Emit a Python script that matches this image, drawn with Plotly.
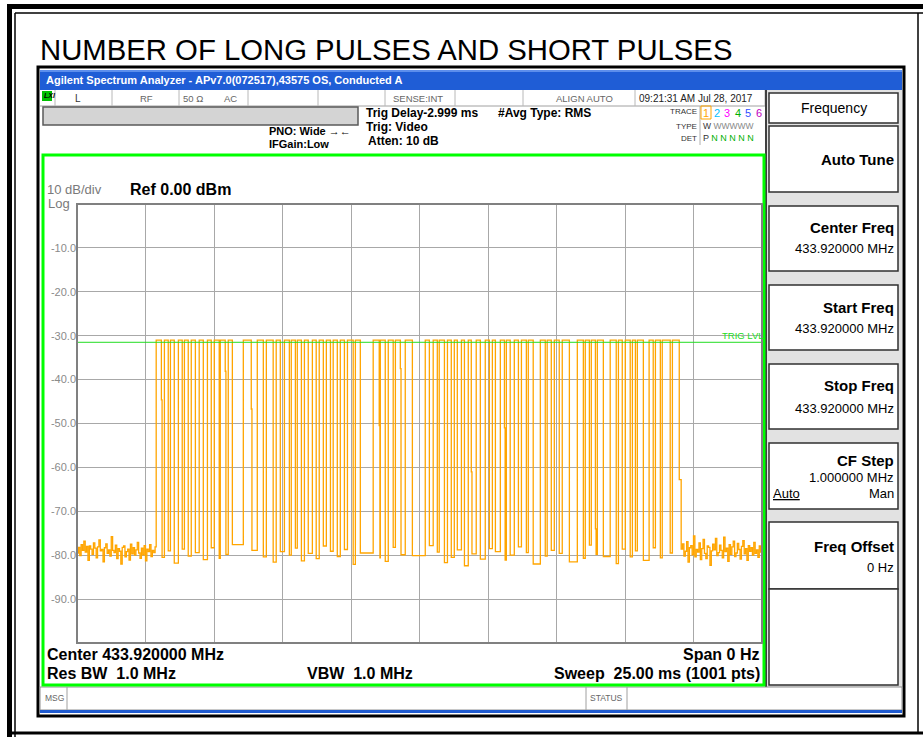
import plotly.graph_objects as go

W, H = 923, 737

# ---------------- data ----------------
sweep_ms = 25.0
sample_ms = 0.025
pulse_level_dbm = -31.0
trig_level_dbm = -31.5

pulse_start_ms = [2.89, 3.19, 3.41, 3.70, 3.92, 4.17, 4.46, 4.76, 5.01, 5.23,
                  5.52, 6.07, 6.58, 6.91, 7.27, 7.57, 7.82, 8.04, 8.30, 8.59,
                  8.84, 9.10, 9.35, 9.61, 9.87, 10.16, 10.81, 11.07, 11.36, 11.62,
                  11.98, 12.71, 13.00, 13.22, 13.52, 13.77, 14.03, 14.28, 14.57, 14.90,
                  15.16, 15.45, 15.67, 15.96, 16.22, 16.47, 16.91, 17.16, 17.42, 17.71,
                  18.26, 18.55, 18.77, 18.99, 19.46, 19.76, 20.01, 20.27, 20.45, 20.88,
                  21.11, 21.36, 21.73]
pulse_end_ms = [3.08, 3.33, 3.55, 3.84, 4.06, 4.32, 4.61, 4.90, 5.19, 5.41,
                5.67, 6.36, 6.80, 7.16, 7.42, 7.75, 7.97, 8.19, 8.44, 8.73,
                8.99, 9.25, 9.50, 9.76, 10.08, 10.34, 11.03, 11.25, 11.54, 11.80,
                12.24, 12.86, 13.15, 13.41, 13.66, 13.88, 14.14, 14.39, 14.72, 15.05,
                15.27, 15.60, 15.81, 16.11, 16.40, 16.65, 17.09, 17.31, 17.60, 17.97,
                18.48, 18.70, 18.92, 19.21, 19.68, 19.90, 20.19, 20.38, 20.67, 21.03,
                21.29, 21.65, 21.98]
gap_floor_dbm = [-80.5, -79.0, -81.8, -78.6, -80.2, -79.4, -81.0, -78.3, -80.7, -79.8,
                 -77.6, -78.9, -80.4, -81.6, -79.2, -80.0, -78.4, -81.3, -79.6, -80.8,
                 -77.9, -79.1, -80.3, -78.7, -82.1, -79.5, -80.6, -81.4, -78.2, -79.9,
                 -80.1, -77.8, -79.3, -81.7, -80.5, -78.8, -82.4, -79.7, -80.9, -78.5,
                 -79.2, -81.1, -80.0, -78.1, -79.4, -82.0, -80.2, -78.9, -79.6, -81.5,
                 -80.7, -77.7, -79.8, -80.3, -81.9, -78.6, -80.4, -79.0, -81.2, -78.3,
                 -80.6, -79.5]
# partial samples caught on some falling edges
fall_step_pulse = [0, 9, 11, 26, 29, 37, 41, 52, 62]
fall_step_dbm = [-44.6, -38.1, -46.7, -50.5, -37.5, -61.0, -51.0, -74.0, -62.8]

noise_step_ms = 0.05
pre_noise_dbm = [-79.5, -78.2, -80.1, -77.6, -78.9, -76.8, -79.3, -78.0, -81.2, -77.9,
                 -78.6, -79.8, -77.2, -78.4, -80.6, -78.1, -76.5, -79.0, -78.7, -81.5,
                 -78.3, -77.4, -79.6, -78.8, -80.2, -75.8, -78.9, -79.4, -77.7, -80.8,
                 -78.5, -79.1, -82.0, -78.2, -77.9, -80.4, -79.2, -78.6, -81.1, -77.5,
                 -79.7, -78.3, -80.0, -78.8, -77.1, -79.5, -80.7, -78.4, -79.9, -77.8,
                 -81.3, -78.6, -79.2, -77.6, -80.3, -78.9, -79.4, -78.1]
post_noise_start_ms = 22.05
post_noise_dbm = [-78.6, -77.4, -80.2, -79.1, -76.9, -81.6, -78.3, -77.8, -79.9, -75.6,
                  -80.4, -78.7, -79.3, -77.2, -81.0, -78.5, -76.4, -79.6, -80.8, -77.9,
                  -78.2, -82.3, -79.0, -77.5, -78.8, -76.2, -80.1, -79.4, -77.7, -78.9,
                  -80.6, -75.9, -79.2, -78.4, -81.4, -77.6, -79.8, -78.1, -76.8, -80.3,
                  -79.5, -77.3, -78.7, -80.9, -78.0, -76.7, -79.7, -78.5, -81.2, -77.8,
                  -79.1, -78.3, -80.0, -77.1, -79.6, -78.8, -80.5, -77.9, -79.3, -78.6]

y_tick_vals = [-10, -20, -30, -40, -50, -60, -70, -80, -90]
y_tick_text = ["-10.0", "-20.0", "-30.0", "-40.0", "-50.0", "-60.0", "-70.0", "-80.0", "-90.0"]

# ---------------- build the trace ----------------
xs, ys = [], []
for i, v in enumerate(pre_noise_dbm):
    xs.append(i * noise_step_ms)
    ys.append(v)
steps = dict(zip(fall_step_pulse, fall_step_dbm))
for k, (t0, t1) in enumerate(zip(pulse_start_ms, pulse_end_ms)):
    xs.append(t0)
    ys.append(pulse_level_dbm)
    if k in steps:
        xs.append(t1)
        ys.append(steps[k])
        t1 += sample_ms
    if k < len(gap_floor_dbm):
        xs.append(t1)
        ys.append(gap_floor_dbm[k])
for i, v in enumerate(post_noise_dbm):
    xs.append(post_noise_start_ms + i * noise_step_ms)
    ys.append(v)

fig = go.Figure()
fig.add_trace(go.Scatter(x=xs, y=ys, mode="lines", line=dict(color="#FFA500", width=1.3, shape="hv"),
                         hoverinfo="skip", showlegend=False))
fig.add_trace(go.Scatter(x=[0, sweep_ms], y=[trig_level_dbm, trig_level_dbm], mode="lines",
                         line=dict(color="#22DD22", width=1), hoverinfo="skip", showlegend=False))

# ---------------- screen furniture (pixel coords) ----------------
shapes, notes = [], []
ARIAL = "Arial, Liberation Sans, sans-serif"


def rect(x0, y0, x1, y1, fill=None, line=None, lw=1, layer="below"):
    shapes.append(dict(type="rect", xref="paper", yref="paper", layer=layer,
                       x0=x0 / W, x1=x1 / W, y0=1 - y1 / H, y1=1 - y0 / H,
                       fillcolor=fill or "rgba(0,0,0,0)",
                       line=dict(color=line or "rgba(0,0,0,0)", width=lw if line else 0)))


def hline(x0, x1, y, color, lw=1, layer="below"):
    shapes.append(dict(type="line", xref="paper", yref="paper", layer=layer,
                       x0=x0 / W, x1=x1 / W, y0=1 - y / H, y1=1 - y / H, line=dict(color=color, width=lw)))


def vline(x, y0, y1, color, lw=1, layer="below"):
    shapes.append(dict(type="line", xref="paper", yref="paper", layer=layer,
                       x0=x / W, x1=x / W, y0=1 - y0 / H, y1=1 - y1 / H, line=dict(color=color, width=lw)))


def text(x, y, s, size=12, color="black", bold=False, anchor="left", family=ARIAL):
    if bold:
        s = "<b>" + s + "</b>"
    notes.append(dict(x=x / W, y=1 - y / H, xref="paper", yref="paper", text=s, showarrow=False,
                      xanchor=anchor, yanchor="middle", borderpad=0,
                      font=dict(size=size, color=color, family=family)))


# outer page border
rect(8, 4, 923, 9, fill="black")
rect(7, 4, 12, 737, fill="black")
hline(15, 923, 13, "black", 1.5)
vline(15, 13, 737, "black", 1.5)
hline(12, 923, 733, "black", 3)
vline(918, 13, 733, "black", 1.5)

text(39, 49, "NUMBER OF LONG PULSES AND SHORT PULSES", 29.3)

# analyzer window
rect(38, 67, 904, 716, fill="white", line="black", lw=3)
rect(40, 70, 902, 90, fill="#1F5DD6")
hline(40, 902, 71, "#5C8EEC", 2)
text(45, 80, "Agilent Spectrum Analyzer - APv7.0(072517),43575 OS, Conducted A", 11, "white", True)

# status row
hline(40, 766, 106, "#A0A0A0")
for sx in [55, 112, 179, 248, 318, 385, 455, 523, 635, 765]:
    vline(sx, 90, 106, "#B8B8B8")
rect(42, 91, 52, 101, fill="#00C000")
text(43, 96, "<i>LXI</i>", 7, "black", True)
text(74, 98, "L", 10, "#333")
text(146, 98, "RF", 9.5, "#666", anchor="center")
text(193, 98, "50 Ω", 9.5, "#666", anchor="center")
text(231, 98, "AC", 9.5, "#666", anchor="center")
text(418, 98, "SENSE:INT", 9.5, "#666", anchor="center")
text(584, 98, "ALIGN AUTO", 9.5, "#666", anchor="center")
text(638, 98, "09:21:31 AM Jul 28, 2017", 10, "#222")

rect(43, 107, 358, 125, fill="#D4D4D4", line="#5A5A5A", lw=1.5)
text(268, 131, "PNO: Wide →←", 11, bold=True)
text(268, 144, "IFGain:Low", 11, bold=True)
text(365, 113, "Trig Delay-2.999 ms", 12, bold=True)
text(365, 127, "Trig: Video", 12, bold=True)
text(367, 141, "Atten: 10 dB", 12, bold=True)
text(497, 113, "#Avg Type: RMS", 12, bold=True)

text(698, 112, "TRACE", 8, "#333", anchor="right")
text(698, 126, "TYPE", 8, "#333", anchor="right")
text(698, 138, "DET", 8, "#333", anchor="right")
vline(700, 106, 145, "#B0B0B0")
rect(701, 106, 711, 119, line="#FFA500", lw=1)
for i, c in enumerate(["#FFA500", "#00BFFF", "#FF00FF", "#00B000", "#3050FF", "#C000C0"]):
    text(706 + i * 10.5, 113, str(i + 1), 11, c, anchor="center")
text(702, 126, "W <span style='color:#888'>WWWWW</span>", 8.5, "#333")
text(702, 138, "P <span style='color:#00B000'>N N N N N</span>", 9, "#333")

# right soft-key panel
rect(766, 90, 902, 688, fill="#E2E2E2")
vline(766, 90, 688, "#404040", 2)


def key(y0, y1):
    rect(769, y0, 898, y1, fill="white", line="#303030", lw=1.5)


key(93, 123)
text(834, 108, "Frequency", 14, anchor="center")
key(126, 192)
text(895, 159, "Auto Tune", 15, bold=True, anchor="right")
key(206, 271)
text(895, 228, "Center Freq", 15, bold=True, anchor="right")
text(895, 248, "433.920000 MHz", 13, anchor="right")
key(285, 350)
text(895, 307, "Start Freq", 15, bold=True, anchor="right")
text(895, 328, "433.920000 MHz", 13, anchor="right")
key(364, 429)
text(895, 386, "Stop Freq", 15, bold=True, anchor="right")
text(895, 408, "433.920000 MHz", 13, anchor="right")
key(443, 509)
text(895, 460, "CF Step", 15, bold=True, anchor="right")
text(895, 477, "1.000000 MHz", 13, anchor="right")
text(772, 494, "<u>Auto</u>", 13)
text(895, 494, "Man", 13, anchor="right")
key(522, 589)
text(895, 546, "Freq Offset", 15, bold=True, anchor="right")
text(895, 567, "0 Hz", 13, anchor="right")
key(589, 685)

# graticule frame and labels
rect(43, 155, 764, 685, line="#00FF00", lw=3, layer="above")
text(46, 190, "10 dB/div", 13, "#7A7A7A")
text(47, 203.5, "Log", 13, "#7A7A7A")
text(129, 190, "Ref 0.00 dBm", 16, bold=True)
text(721, 335, "TRIG LVL", 9.5, "#22DD22")
text(46, 654, "Center 433.920000 MHz", 16, bold=True)
text(46, 673, "Res BW  1.0 MHz", 16, bold=True)
text(306, 673, "VBW  1.0 MHz", 16, bold=True)
text(760, 654, "Span 0 Hz", 16, bold=True, anchor="right")
text(761, 673, "Sweep  25.00 ms (1001 pts)", 16, bold=True, anchor="right")

# bottom status bar
rect(40, 687, 902, 710, fill="white", line="#909090", lw=1)
vline(67, 687, 710, "#A0A0A0")
vline(586, 687, 710, "#A0A0A0")
vline(627, 687, 710, "#A0A0A0")
text(44, 698, "MSG", 8.5, "#666")
text(589, 698, "STATUS", 8.5, "#666")
rect(40, 710, 902, 713, fill="#1F5BD0")

# plot border
shapes.append(dict(type="rect", xref="x domain", yref="y domain", x0=0, x1=1, y0=0, y1=1,
                   line=dict(color="#808080", width=2), layer="above"))

fig.update_layout(
    width=W, height=H, autosize=False,
    margin=dict(l=0, r=0, t=0, b=0),
    paper_bgcolor="white", plot_bgcolor="rgba(0,0,0,0)",
    shapes=shapes, annotations=notes,
    xaxis=dict(domain=[77 / W, 762 / W], range=[0, sweep_ms], tick0=0, dtick=2.5,
               showticklabels=False, ticks="", showgrid=True, gridcolor="#A8A8A8", gridwidth=1.2,
               zeroline=False, showline=False, fixedrange=True),
    yaxis=dict(domain=[1 - 643 / H, 1 - 204 / H], range=[-100, 0],
               tickmode="array", tickvals=y_tick_vals, ticktext=y_tick_text,
               tickfont=dict(size=11, color="#8A8A8A", family=ARIAL), ticks="",
               showgrid=True, gridcolor="#A8A8A8", gridwidth=1.2,
               zeroline=False, showline=False, fixedrange=True),
    font=dict(family=ARIAL),
)

fig.write_html("out.html", config={"displayModeBar": False},
               post_script="document.body.style.margin='0px';document.body.style.overflow='hidden';")
